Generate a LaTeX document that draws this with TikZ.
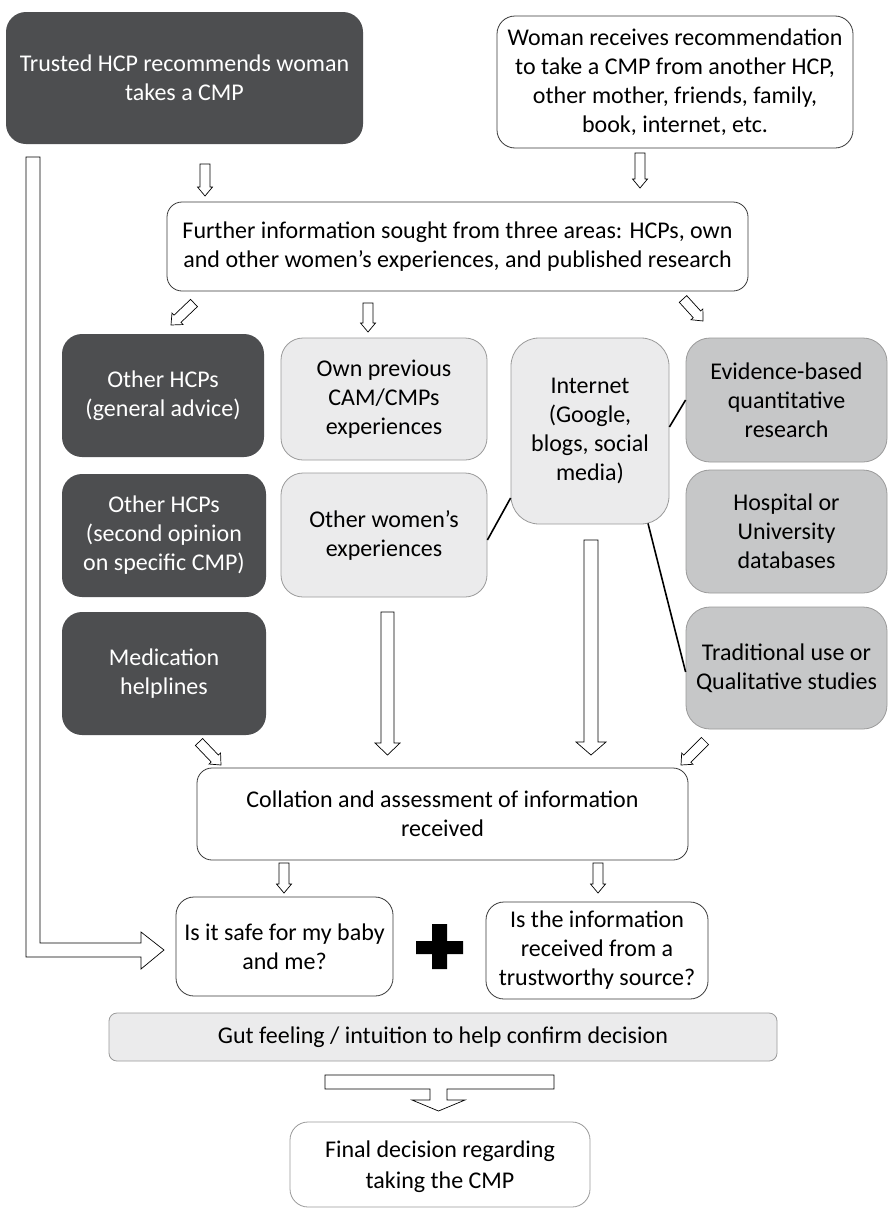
\documentclass[tikz,border=0pt]{standalone}
\usepackage{fontspec}
\setmainfont{Carlito}
\definecolor{dark}{HTML}{4D4E50}
\definecolor{light}{HTML}{EBEBEC}
\definecolor{mid}{HTML}{C6C7C8}
\definecolor{edge}{HTML}{3A3A3A}
\definecolor{soft}{HTML}{9A9A9A}
\tikzset{
  base/.style={rounded corners=#1, align=center, inner sep=0pt, font=\fontsize{24}{29}\selectfont},
  base/.default=20pt,
  darkbox/.style={base=20pt, fill=dark, text=white},
  whitebox/.style={base=#1, draw=edge, line width=0.8pt, fill=white},
  whitebox/.default=18pt,
  softbox/.style={base=#1, draw=soft, line width=0.8pt, fill=white},
  lightbox/.style={base=#1, draw=soft, line width=0.8pt, fill=light},
  lightbox/.default=22pt,
  midbox/.style={base=24pt, draw=soft, line width=0.8pt, fill=mid},
  conn/.style={line width=1.6pt, black},
  blk/.style={draw=black, line width=0.7pt, fill=white, line join=miter},
}
\newcommand\bx[7]{%
  \node[#1, minimum width={(#5-#3)*1pt}, minimum height={(#6-#4)*1pt}] (#2) at ({(#3+#5)/2},{(#4+#6)/2}) {#7};}
\newcommand\blockarrow[7]{%
  \pgfmathsetmacro\baAng{atan2(-(#4-#2),#3-#1)}%
  \pgfmathsetmacro\baLen{veclen(#3-#1,#4-#2)}%
  \pgfmathsetmacro\baB{\baLen-#7}%
  \draw[blk,shift={(#1,#2)},rotate=\baAng] (0,#5) -- (\baB,#5) -- (\baB,#6) -- (\baLen,0) -- (\baB,-#6) -- (\baB,-#5) -- (0,-#5) -- cycle;}
\begin{document}
\begin{tikzpicture}[x=1pt,y=-1pt]
\useasboundingbox (0,0) rectangle (888,1210);
\fill[white] (0,0) rectangle (888,1210);

\bx{darkbox}{trusted}{6}{12}{363}{144}{Trusted HCP recommends woman\\takes a CMP}
\bx{whitebox}{woman}{497}{16}{853}{148}{Woman receives recommendation\\to take a CMP from another HCP,\\other mother, friends, family,\\book, internet, etc.}
\bx{whitebox=15pt}{further}{167}{202}{748}{291}{Further information sought from three areas: HCPs, own\\and other women’s experiences, and published research}

\bx{darkbox}{hcpa}{62}{334}{264}{457}{Other HCPs\\(general advice)}
\bx{lightbox}{own}{281}{338}{487}{460}{Own previous\\CAM/CMPs\\experiences}
\bx{lightbox=28pt}{internet}{511}{338}{669}{524}{Internet\\(Google,\\blogs, social\\media)}
\bx{midbox}{evidence}{686}{338}{887}{462}{Evidence-based\\quantitative\\research}

\bx{darkbox}{hcpb}{62}{474}{266}{597}{Other HCPs\\(second opinion\\on specific CMP)}
\bx{lightbox}{women}{281}{473}{487}{597}{Other women’s\\experiences}
\bx{midbox}{hospital}{686}{470}{887}{593}{Hospital or\\University\\databases}

\bx{darkbox}{helplines}{62}{612}{266}{735}{Medication\\helplines}
\bx{midbox}{traditional}{686}{607}{887}{729}{Traditional use or\\Qualitative studies}

\bx{whitebox=15pt}{collation}{197}{768}{688}{860}{Collation and assessment of information\\received}
\bx{whitebox}{safe}{176}{897}{393}{996}{Is it safe for my baby\\and me?}
\bx{whitebox}{trust}{486}{902}{708}{999}{Is the information\\received from a\\trustworthy source?}
\bx{lightbox=8pt}{gut}{109}{1013}{777}{1061}{Gut feeling / intuition to help confirm decision}
\bx{softbox=18pt, font=\fontsize{24}{31}\selectfont, text depth=-6pt}{final}{290}{1122}{590}{1207}{Final decision regarding\\taking the CMP}

% connector lines
\draw[conn] ([yshift=4pt]internet.east) -- (evidence.west);
\draw[conn] ([yshift=-5pt]women.east) -- ([yshift=-67pt]internet.west);
\draw[conn] ([xshift=58pt,yshift=1pt]internet.south) -- ([yshift=-4pt]traditional.west);

% block arrows
\blockarrow{205}{164}{205}{196}{5}{7.5}{9}
\blockarrow{640}{153}{640}{188}{5}{7.5}{9}
\blockarrow{194}{303}{171}{325}{5}{8}{9}
\blockarrow{368}{303}{368}{332}{5}{7.5}{9}
\blockarrow{683}{299}{703}{321}{5}{8}{9}
\blockarrow{387.5}{612}{387.5}{755}{6.5}{12.5}{12}
\blockarrow{591}{540}{591}{755}{7}{15}{13}
\blockarrow{199}{742}{221}{765}{5}{8}{9}
\blockarrow{705}{741}{681}{765}{5}{8}{9}
\blockarrow{284}{863}{284}{893}{5}{7.5}{9}
\blockarrow{598}{863}{598}{893}{5}{7.5}{9}

% long left arrow
\draw[blk] (26,157) -- (26,957) -- (141,957) -- (141,969) -- (164,950) -- (141,932) -- (141,943) -- (40,943) -- (40,157) -- cycle;

% bottom arrow
\draw[blk] (325,1075) -- (554,1075) -- (554,1089) -- (447,1089) -- (447,1100) -- (465,1100) -- (438.5,1111) -- (412,1100) -- (430,1100) -- (430,1089) -- (325,1089) -- cycle;

% plus sign
\fill[black] (432,924) -- (447,924) -- (447,941) -- (463,941) -- (463,954) -- (447,954) -- (447,969) -- (432,969) -- (432,954) -- (416,954) -- (416,941) -- (432,941) -- cycle;
\end{tikzpicture}
\end{document}
